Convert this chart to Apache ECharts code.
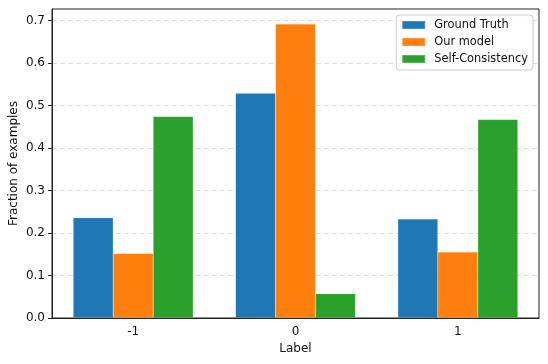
<!DOCTYPE html>
<html lang="en">
<head>
    <meta charset="UTF-8">
    <title>Label distribution</title>
    <script src="https://cdn.jsdelivr.net/npm/echarts@6/dist/echarts.min.js"></script>
    <style>
        body, html {
            margin: 0;
            padding: 0;
            background-color: #ffffff;
        }
        #chart {
            width: 548px;
            height: 364px;
        }
    </style>
</head>
<body>
    <div id="chart"></div>

    <script>
        const categories = ['-1', '0', '1'];
        const groundTruth = [0.236, 0.529, 0.233];
        const ourModel = [0.152, 0.692, 0.155];
        const selfConsistency = [0.474, 0.057, 0.467];
        const yTicks = [0, 0.1, 0.2, 0.3, 0.4, 0.5, 0.6, 0.7];

        const font = 'DejaVu Sans';
        const fs = 12;
        const chart = echarts.init(document.getElementById('chart'));

        function barSeries(name, data, color) {
            return {
                name: name,
                type: 'bar',
                data: data,
                barWidth: 40,
                barGap: '0%',
                itemStyle: {
                    color: color,
                    borderColor: 'rgba(255,255,255,0.2)',
                    borderWidth: 0.5
                }
            };
        }

        const option = {
            animation: false,
            textStyle: { fontFamily: font },
            grid: {
                left: 52,
                right: 9,
                top: 9,
                bottom: 46,
                show: true,
                borderColor: '#222',
                borderWidth: 1,
                containLabel: false,
                outerBoundsMode: 'none'
            },
            legend: {
                orient: 'vertical',
                right: 15,
                top: 15,
                itemWidth: 23,
                itemHeight: 8,
                itemGap: 3,
                padding: [3, 5, 4, 5],
                backgroundColor: 'rgba(255,255,255,0.85)',
                borderColor: '#cccccc',
                borderWidth: 1,
                borderRadius: 3,
                icon: 'rect',
                textStyle: {
                    fontFamily: font,
                    fontSize: 11.4,
                    color: '#111',
                    lineHeight: 14,
                    padding: [0, 0, 0, 4]
                }
            },
            xAxis: {
                type: 'category',
                data: categories,
                name: 'Label',
                nameLocation: 'middle',
                nameGap: 25,
                nameMoveOverlap: false,
                nameTextStyle: { fontFamily: font, fontSize: fs, color: '#111' },
                axisLine: { lineStyle: { color: '#222', width: 1 } },
                axisTick: { alignWithLabel: true, length: 4, lineStyle: { color: '#222' } },
                axisLabel: { fontFamily: font, fontSize: fs, color: '#111', margin: 8 },
                splitLine: { show: false }
            },
            yAxis: {
                type: 'value',
                min: 0,
                max: 0.727,
                interval: 0.1,
                name: 'Fraction of examples',
                nameLocation: 'middle',
                nameGap: 32,
                nameMoveOverlap: false,
                nameTextStyle: { fontFamily: font, fontSize: fs, color: '#111' },
                axisLine: { show: true, lineStyle: { color: '#222', width: 1 } },
                axisTick: { show: true, length: 4, customValues: yTicks, lineStyle: { color: '#222' } },
                axisLabel: {
                    fontFamily: font,
                    fontSize: fs,
                    color: '#111',
                    margin: 7,
                    customValues: yTicks,
                    formatter: function (v) { return v.toFixed(1); }
                },
                splitLine: {
                    show: true,
                    lineStyle: { color: '#dddddd', type: [5, 3], width: 1 }
                }
            },
            series: [
                barSeries('Ground Truth', groundTruth, '#1f77b4'),
                barSeries('Our model', ourModel, '#ff7f0e'),
                barSeries('Self-Consistency', selfConsistency, '#2ca02c')
            ]
        };
        chart.setOption(option);
    </script>
</body>
</html>
